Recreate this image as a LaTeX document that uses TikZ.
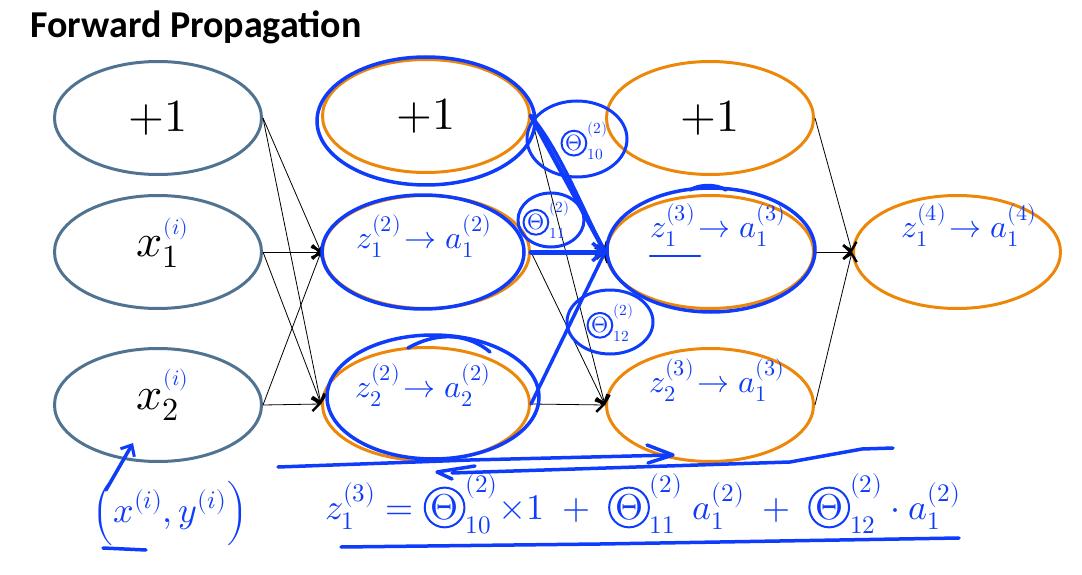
\documentclass[tikz,border=0pt]{standalone}
\usepackage{fontspec}
\usepackage{amsmath}
\usepackage{unicode-math}
\setmathfont{Latin Modern Math}
\newfontfamily\titlefont{Carlito}
\usetikzlibrary{shapes.geometric,arrows.meta}
\definecolor{slate}{RGB}{80,115,145}
\definecolor{orng}{RGB}{237,135,10}
\definecolor{ink}{RGB}{15,60,250}
\newcommand{\cth}{\tikz[baseline=(th.base)]\node[circle,draw=ink,line width=2pt,inner sep=0.5pt,text=ink](th){$\Theta$};}
\tikzset{
  lnode/.style={ellipse,draw=slate,line width=3pt,minimum width=207pt,minimum height=113pt,inner sep=0pt,font=\fontsize{46}{50}\selectfont},
  onode/.style={ellipse,draw=orng,line width=3pt,minimum width=207pt,minimum height=113pt,inner sep=0pt,font=\fontsize{46}{50}\selectfont},
  conn/.style={line width=0.8pt,-{Straight Barb[length=7pt,width=14pt,line width=2.4pt]}},
  inkline/.style={draw=ink,line width=3.5pt,line cap=round,line join=round},
  inktext/.style={text=ink,inner sep=0pt,font=\fontsize{32}{36}\selectfont},
  thloop/.style={draw=ink,line width=3pt},
}
\begin{document}
\begin{tikzpicture}[x=1pt,y=-1pt]
\useasboundingbox (0,0) rectangle (1082,575);
\node[anchor=base west,inner sep=0pt,font=\titlefont\bfseries\fontsize{38}{44}\selectfont] (title) at (30,38) {Forward Propagation};

% layer nodes
\node[lnode] (L1) at (158,118) {$+1$};
\node[lnode] (L2) at (158,252) {$x_1$};
\node[lnode] (L3) at (158,405) {$x_2$};
\node[onode] (C1) at (426,116) {$+1$};
\node[onode] (C2) at (426,252) {};
\node[onode] (C3) at (426,404) {};
\node[onode] (D1) at (710,118) {$+1$};
\node[onode] (D2) at (710,252) {};
\node[onode] (D3) at (710,405) {};
\node[onode] (E) at (957,252) {};

% connectors
\foreach \a in {L1,L2,L3}{\foreach \b in {C2,C3}{\draw[conn] (\a.east) -- (\b.west);}}
\foreach \a in {C1,C2,C3}{\foreach \b in {D2,D3}{\draw[conn] (\a.east) -- (\b.west);}}
\foreach \a in {D1,D2,D3}{\draw[conn] (\a.east) -- (E.west);}

% handwritten labels
\node[inktext,font=\fontsize{22}{24}\selectfont] (i1) at (176,229) {$(i)$};
\node[inktext,font=\fontsize{22}{24}\selectfont] (i2) at (176,380) {$(i)$};
\node[inktext] (lc2) at (424,236) {$z^{(2)}_1\!\to a^{(2)}_1$};
\node[inktext] (lc3) at (423,385) {$z^{(2)}_2\!\to a^{(2)}_2$};
\node[inktext] (ld2) at (718,225) {$z^{(3)}_1\!\to a^{(3)}_1$};
\node[inktext] (ld3) at (717,380) {$z^{(3)}_2\!\to a^{(3)}_1$};
\node[inktext] (le) at (969,225) {$z^{(4)}_1\!\to a^{(4)}_1$};
\draw[inkline,line width=2.5pt] (650,256) -- (700,256);

% blue ellipses round the units
\draw[inkline] (426,121) ellipse [x radius=109pt, y radius=64pt];
\draw[inkline] (423,252) ellipse [x radius=101pt, y radius=57pt];
\draw[inkline] (433,397) ellipse [x radius=106pt, y radius=62pt];
\draw[inkline] (408,348) .. controls (440,330) and (470,335) .. (490,352);
\draw[inkline] (711,250) ellipse [x radius=104pt, y radius=62pt];
\draw[inkline] (690,190) .. controls (700,184) and (716,184) .. (726,190);

% blue strokes into z^(3)_1
\draw[inkline,line width=4.5pt] (C1.east) -- (D2.west);
\draw[inkline] (C1.east) .. controls (560,150) and (585,215) .. (D2.west);
\draw[inkline,line width=5pt,-{Straight Barb[length=10pt,width=18pt,line width=3.5pt]}] (C2.east) -- (D2.west);
\draw[inkline] (C3.east) -- (D2.west);

% theta labels
\node[inktext,font=\fontsize{22}{24}\selectfont] (t10) at (584,141) {$\cth^{(2)}_{10}$};
\draw[thloop] (577,139) ellipse [x radius=50pt, y radius=38pt];
\node[inktext,font=\fontsize{22}{24}\selectfont] (t11) at (546,220) {$\cth^{(2)}_{11}$};
\draw[thloop] (551,220) ellipse [x radius=33pt, y radius=27pt];
\node[inktext,font=\fontsize{22}{24}\selectfont] (t12) at (610,323) {$\cth^{(2)}_{12}$};
\draw[thloop] (610,322) ellipse [x radius=43pt, y radius=32pt];

% bottom strokes
\draw[inkline] (278,467) -- (470,460) -- (672,455);
\draw[inkline] (647,445) -- (673,455) -- (648,463);
\draw[inkline] (893,448) -- (862,449) -- (790,462) -- (452,473);
\draw[inkline] (475,466) -- (437,472) -- (452,479);

% equation
\node[inktext,font=\fontsize{36}{40}\selectfont,anchor=west] (eq) at (325,504)
  {$z^{(3)}_1 = \cth^{(2)}_{10}{\times}1 \;+\; \cth^{(2)}_{11}\;a^{(2)}_1 \;+\; \cth^{(2)}_{12}\cdot a^{(2)}_1$};
\draw[inkline] (341,547) -- (600,544) -- (959,538);

% training example
\node[inktext,font=\fontsize{36}{40}\selectfont] (xy) at (170,513) {$\Big(x^{(i)},y^{(i)}\Big)$};
\draw[inkline] (103,548) -- (146,550);
\coordinate (xtail) at (106,490);
\coordinate (xtip) at (133,443);
\draw[inkline,-{Straight Barb[length=9pt,width=16pt,line width=3pt]}] (xtail) -- (xtip);
\end{tikzpicture}
\end{document}
